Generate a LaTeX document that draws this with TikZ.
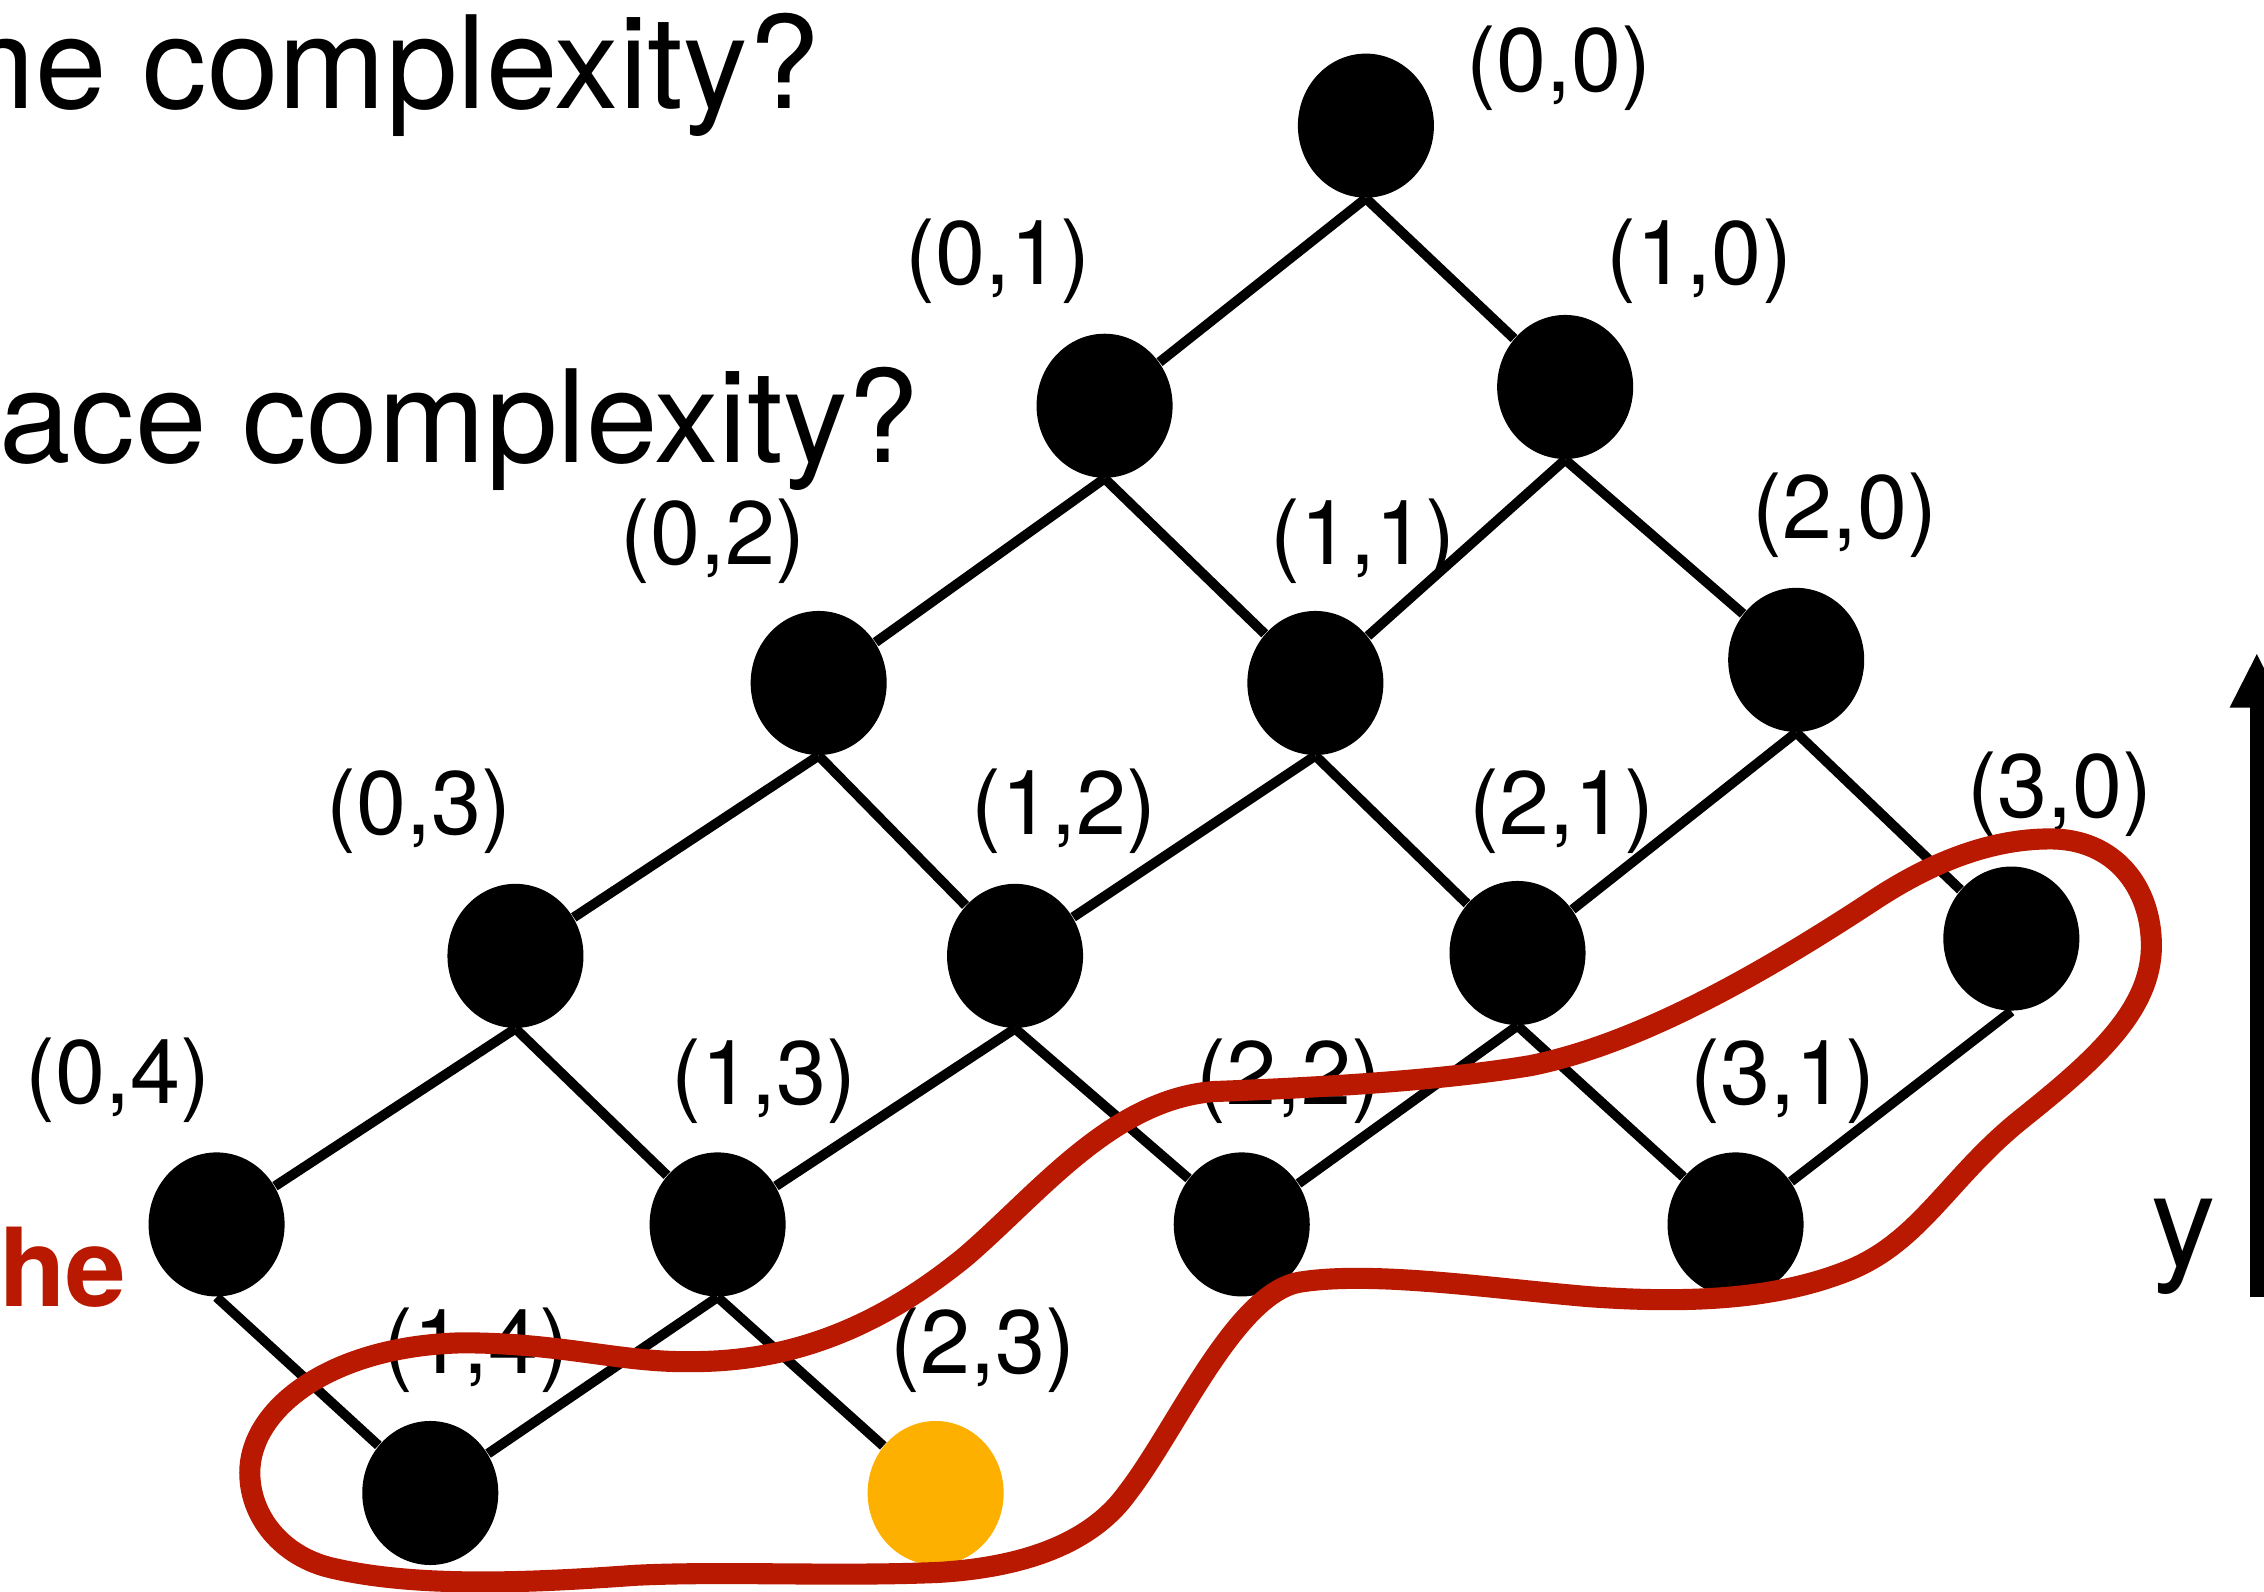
\documentclass[tikz,border=0pt]{standalone}
\usepackage{fontspec}
\setmainfont{TeX Gyre Heros}
\usetikzlibrary{shapes.geometric,arrows.meta}
\definecolor{cRed}{RGB}{185,25,0}
\definecolor{cGold}{RGB}{253,176,0}
\begin{document}
\begin{tikzpicture}[x=0.014439cm,y=-0.014439cm,
  dot/.style={ellipse,fill=black,inner sep=0pt,minimum width=1.36cm,minimum height=1.44cm},
  gold/.style={dot,fill=cGold},
  lbl/.style={inner sep=0pt,font=\fontsize{25.6}{30}\selectfont},
  edge/.style={line width=2.8pt},
  big/.style={inner sep=0pt,font=\fontsize{36.6}{42}\selectfont},
  hl/.style={draw=cRed,line width=6pt}]
\useasboundingbox (0,0) rectangle (1568,1102);
\clip (0,0) rectangle (1568,1102);

% texts
\node[big,anchor=base east] (t1) at (568,75) {Time complexity?};
\node[big,anchor=base east] (t2) at (637,320) {Space complexity?};
\node[inner sep=0pt,anchor=base east,text=cRed,font=\bfseries\fontsize{31}{36}\selectfont] (t3) at (88,905) {he};
\node[big,anchor=base] (ylbl) at (1512,877) {y};

% nodes
\node[dot] (n00) at (946,87) {};
\node[dot] (n01) at (765,281) {};
\node[dot] (n10) at (1084,268) {};
\node[dot] (n02) at (567,473) {};
\node[dot] (n11) at (911,473) {};
\node[dot] (n20) at (1244,457) {};
\node[dot] (n03) at (357,662) {};
\node[dot] (n12) at (703,662) {};
\node[dot] (n21) at (1051,660) {};
\node[dot] (n30) at (1393,650) {};
\node[dot] (n04) at (150,848) {};
\node[dot] (n13) at (497,848) {};
\node[dot] (n22) at (860,848) {};
\node[dot] (n31) at (1202,848) {};
\node[dot] (n14) at (298,1034) {};
\node[gold] (n23) at (648,1034) {};

% edges
\draw[edge] (n00.south) -- (n01);
\draw[edge] (n00.south) -- (n10);
\draw[edge] (n01.south) -- (n02);
\draw[edge] (n01.south) -- (n11);
\draw[edge] (n10.south) -- (n11);
\draw[edge] (n10.south) -- (n20);
\draw[edge] (n02.south) -- (n03);
\draw[edge] (n02.south) -- (n12);
\draw[edge] (n11.south) -- (n12);
\draw[edge] (n11.south) -- (n21);
\draw[edge] (n20.south) -- (n21);
\draw[edge] (n20.south) -- (n30);
\draw[edge] (n03.south) -- (n04);
\draw[edge] (n03.south) -- (n13);
\draw[edge] (n12.south) -- (n13);
\draw[edge] (n12.south) -- (n22);
\draw[edge] (n21.south) -- (n22);
\draw[edge] (n21.south) -- (n31);
\draw[edge] (n30.south) -- (n31);
\draw[edge] (n04.south) -- (n14);
\draw[edge] (n13.south) -- (n14);
\draw[edge] (n13.south) -- (n23);

% labels
\node[lbl] (l00) at (1080,47) {(0,0)};
\node[lbl] (l01) at (691,181) {(0,1)};
\node[lbl] (l10) at (1177,181) {(1,0)};
\node[lbl] (l02) at (494,375) {(0,2)};
\node[lbl] (l11) at (944,375) {(1,1)};
\node[lbl] (l20) at (1278,357) {(2,0)};
\node[lbl] (l03) at (290,562) {(0,3)};
\node[lbl] (l12) at (737,562) {(1,2)};
\node[lbl] (l21) at (1082,562) {(2,1)};
\node[lbl] (l30) at (1427,550) {(3,0)};
\node[lbl] (l04) at (82,748) {(0,4)};
\node[lbl] (l13) at (529,749) {(1,3)};
\node[lbl] (l22) at (893,749) {(2,2)};
\node[lbl] (l31) at (1235,749) {(3,1)};
\node[lbl] (l14) at (330,935) {(1,4)};
\node[lbl] (l23) at (681,935) {(2,3)};

% axis arrow
\coordinate (ab) at (1563,898);
\coordinate (at) at (1563,452);
\draw[line width=0.14cm,-{Triangle[length=0.55cm,width=0.5cm]}] (ab) -- (at);

% highlight curve
\draw[hl] (173,1020)
  .. controls (173,975) and (230,932) .. (320,930)
  .. controls (390,930) and (430,944) .. (480,943)
  .. controls (560,943) and (620,910) .. (669,870)
  .. controls (720,826) and (770,762) .. (840,756)
  .. controls (920,753) and (1000,748) .. (1060,738)
  .. controls (1140,722) and (1230,668) .. (1300,622)
  .. controls (1340,596) and (1380,581) .. (1420,581)
  .. controls (1465,581) and (1490,615) .. (1490,655)
  .. controls (1490,700) and (1450,735) .. (1400,775)
  .. controls (1350,815) and (1330,860) .. (1280,880)
  .. controls (1230,900) and (1170,903) .. (1100,898)
  .. controls (1030,892) and (950,880) .. (900,888)
  .. controls (855,896) and (815,990) .. (780,1035)
  .. controls (752,1073) and (700,1086) .. (650,1089)
  .. controls (580,1092) and (500,1088) .. (440,1091)
  .. controls (370,1096) and (290,1100) .. (230,1086)
  .. controls (195,1078) and (173,1050) .. cycle;
\end{tikzpicture}
\end{document}
